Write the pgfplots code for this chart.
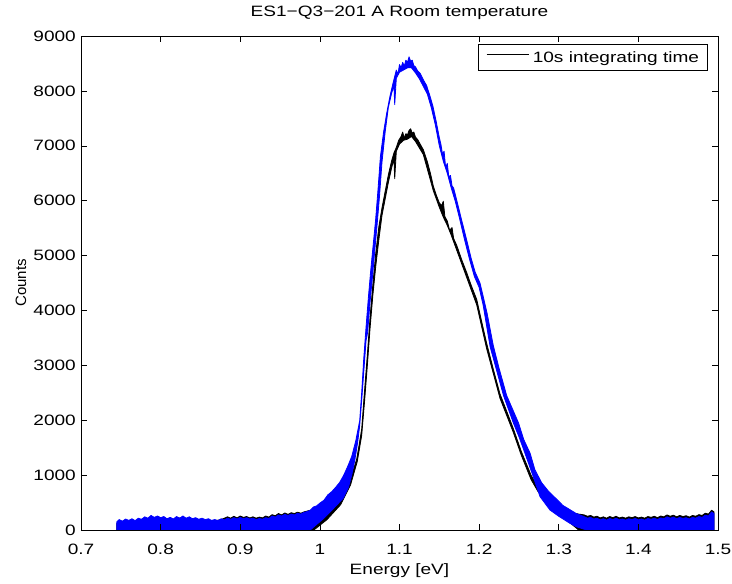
\documentclass[border=0pt]{standalone}
\usepackage{fontspec}
\setmainfont{Liberation Sans}[FakeStretch=1.27]
\newfontfamily\uprightlabel{Liberation Sans}
\usepackage{pgfplots}
\pgfplotsset{compat=1.18}

\begin{document}
\begin{tikzpicture}[font=\fontsize{15bp}{18bp}\selectfont]
\useasboundingbox (-81bp,-54bp) rectangle (651bp,530bp);
\begin{axis}[
  at={(0,0)}, anchor=south west,
  scale only axis, width=637bp, height=494bp,
  xmin=0.7, xmax=1.5, ymin=0, ymax=9000,
  xtick={0.7,0.8,0.9,1.0,1.1,1.2,1.3,1.4,1.5},
  xticklabels={0.7,0.8,0.9,1,1.1,1.2,1.3,1.4,1.5},
  ytick={0,1000,2000,3000,4000,5000,6000,7000,8000,9000},
  yticklabels={0,1000,2000,3000,4000,5000,6000,7000,8000,9000},
  /pgf/number format/assume math mode=true,
  tick align=inside, major tick length=6bp,
  tick style={black, line width=0.5bp},
  axis line style={line width=0.7bp},
  axis on top,
  xticklabel style={anchor=base, yshift=-24bp, inner sep=0pt},
  yticklabel style={anchor=east, inner sep=0pt, xshift=-5bp},
  title={ES1−Q3−201 A Room temperature},
  title style={at={(axis description cs:0.5,1.0283)}, anchor=base, inner sep=0pt},
  xlabel={Energy [eV]},
  xlabel style={at={(axis description cs:0.5,-0.0891)}, anchor=base, inner sep=0pt},
  ylabel={Counts},
  ylabel style={at={(axis description cs:-0.0863,0.5)}, anchor=base, inner sep=0pt,
    font=\uprightlabel\fontsize{15bp}{18bp}\selectfont},
  legend style={at={(axis description cs:1,1)}, anchor=north east,
    xshift=-10.7bp, yshift=-8bp, draw=black, line width=0.5bp,
    inner xsep=8bp, inner ysep=7bp, nodes={inner sep=0pt},
    /tikz/every odd column/.append style={column sep=4bp}},
  legend cell align=left,
  legend image code/.code={\draw[#1] (0bp,0.33em) -- (42bp,0.33em);},
]

% 10 s integration: noise band, upper edge left to right, lower edge back
\addplot[forget plot, draw=black, fill=black, line width=0.8bp, line join=round] coordinates {
(0.745,0) (0.745,120) (0.750,150) (0.756,170) (0.762,150) (0.768,160) (0.774,185)
(0.780,210) (0.786,200) (0.792,215) (0.798,225) (0.804,210) (0.810,200) (0.816,180)
(0.822,215) (0.828,225) (0.834,195) (0.840,180) (0.846,190) (0.852,180) (0.858,175)
(0.864,160) (0.870,175) (0.876,190) (0.880,215) (0.884,240) (0.888,215) (0.892,250)
(0.896,220) (0.900,255) (0.904,230) (0.908,245) (0.912,220) (0.916,240) (0.920,215)
(0.924,235) (0.928,220) (0.932,255) (0.936,235) (0.940,280) (0.944,260) (0.948,300)
(0.952,275) (0.956,310) (0.960,285) (0.964,315) (0.968,300) (0.972,325) (0.976,305)
(0.980,330) (0.984,345) (0.988,360) (0.992,350) (1.000,380) (1.010,430) (1.020,520)
(1.030,680) (1.0378,900) (1.0462,1290) (1.0495,1570) (1.0525,1840) (1.056,2520)
(1.0595,3170) (1.063,3870) (1.0665,4470) (1.070,5020) (1.074,5520) (1.078,5870)
(1.082,6170) (1.086,6470) (1.090,6720) (1.093,6870) (1.096,6970) (1.099,7100)
(1.102,7170) (1.104,7250) (1.106,7140) (1.108,7220) (1.110,7200) (1.112,7280)
(1.114,7310) (1.116,7230) (1.118,7250) (1.120,7160) (1.123,7110) (1.126,7030)
(1.1299,6930) (1.135,6710) (1.139,6490) (1.1425,6265) (1.146,6110) (1.150,5960)
(1.153,5910) (1.155,5990) (1.157,5710) (1.160,5630) (1.163,5460) (1.166,5510)
(1.168,5310) (1.1718,5190) (1.178,4930) (1.1844,4690) (1.190,4460) (1.197,4200)
(1.203,3810) (1.2095,3400) (1.218,2920) (1.2262,2480) (1.235,2150) (1.2429,1850)
(1.253,1430) (1.2652,1000) (1.274,780) (1.285,600) (1.300,420) (1.315,320)
(1.325,290) (1.332,275) (1.336,250) (1.340,265) (1.344,235) (1.348,250) (1.352,220)
(1.356,240) (1.360,215) (1.364,245) (1.368,225) (1.372,250) (1.376,220) (1.380,235)
(1.384,215) (1.388,240) (1.392,225) (1.396,245) (1.400,220) (1.404,235) (1.408,215)
(1.412,245) (1.416,230) (1.420,250) (1.424,225) (1.428,255) (1.432,240) (1.436,275)
(1.440,250) (1.444,270) (1.448,240) (1.452,265) (1.456,245) (1.460,260) (1.464,235)
(1.468,265) (1.472,250) (1.476,280) (1.480,265) (1.484,305) (1.488,290) (1.492,360)
(1.495,330) (1.495,0)
(1.325,0) (1.315,120) (1.300,300) (1.285,500) (1.274,700) (1.2652,920) (1.253,1360)
(1.2429,1780) (1.2262,2400) (1.2095,3300) (1.197,4100) (1.1844,4600) (1.1718,5100)
(1.165,5370) (1.160,5550) (1.155,5700) (1.150,5880) (1.1425,6180) (1.1299,6840)
(1.120,7080) (1.115,7170) (1.110,7120) (1.105,7100) (1.100,7030) (1.096,6900)
(1.094,6400) (1.093,6760) (1.090,6590) (1.086,6330) (1.082,6030) (1.078,5730)
(1.074,5280) (1.070,4780) (1.0665,4270) (1.063,3670) (1.0595,2970) (1.056,2320)
(1.0525,1720) (1.047,1250) (1.0385,820) (1.026,460) (1.009,190) (0.9925,0) (0.745,0)
};

% second acquisition: noise band, upper edge left to right, lower edge back
\addplot[forget plot, draw=blue, fill=blue, line width=0.8bp, line join=round] coordinates {
(0.745,0) (0.745,150) (0.748,190) (0.752,160) (0.756,200) (0.760,175) (0.764,205)
(0.768,170) (0.772,215) (0.776,195) (0.780,240) (0.784,215) (0.788,265) (0.792,230)
(0.796,255) (0.800,225) (0.804,245) (0.808,205) (0.812,230) (0.816,200) (0.820,245)
(0.824,215) (0.828,255) (0.832,215) (0.836,240) (0.840,205) (0.844,225) (0.848,195)
(0.852,215) (0.856,190) (0.860,205) (0.864,175) (0.868,190) (0.872,170) (0.876,205)
(0.880,185) (0.884,215) (0.888,195) (0.892,225) (0.896,200) (0.900,230) (0.904,205)
(0.908,225) (0.912,200) (0.916,215) (0.920,190) (0.924,210) (0.928,195) (0.932,225)
(0.936,210) (0.940,255) (0.944,235) (0.948,275) (0.952,255) (0.956,285) (0.960,265)
(0.964,290) (0.968,275) (0.972,305) (0.976,290) (0.980,320) (0.984,335) (0.988,360)
(0.992,420) (0.996,440) (1.000,490) (1.005,540) (1.010,640) (1.015,700) (1.020,780)
(1.025,870) (1.030,1000) (1.035,1160) (1.040,1340) (1.045,1620) (1.050,1990)
(1.0525,2500) (1.055,3100) (1.058,3700) (1.061,4250) (1.064,4750) (1.067,5200)
(1.070,5650) (1.073,6200) (1.076,6800) (1.080,7250) (1.084,7600) (1.088,7900)
(1.092,8150) (1.096,8380) (1.098,8300) (1.100,8480) (1.102,8420) (1.104,8520)
(1.106,8450) (1.108,8560) (1.110,8520) (1.112,8620) (1.114,8540) (1.116,8560)
(1.118,8460) (1.120,8440) (1.123,8360) (1.126,8320) (1.130,8200) (1.134,8100)
(1.138,7920) (1.142,7720) (1.146,7450) (1.150,7150) (1.152,7030) (1.154,6850)
(1.156,6900) (1.158,6600) (1.160,6680) (1.162,6430) (1.164,6460) (1.166,6270)
(1.168,6230) (1.1718,6013) (1.178,5650) (1.1844,5284) (1.190,4950) (1.195,4700)
(1.2011,4500) (1.2052,4250) (1.210,3950) (1.2178,3360) (1.225,2950) (1.2346,2450)
(1.2495,1950) (1.256,1650) (1.264,1400) (1.270,1100) (1.2786,860) (1.2875,700)
(1.2975,560) (1.305,450) (1.3141,370) (1.322,300) (1.3308,250) (1.336,215)
(1.340,230) (1.344,200) (1.348,215) (1.352,185) (1.356,205) (1.360,180) (1.364,210)
(1.368,190) (1.372,215) (1.376,185) (1.380,200) (1.384,180) (1.388,205) (1.392,190)
(1.396,210) (1.400,185) (1.404,200) (1.408,180) (1.412,210) (1.416,195) (1.420,215)
(1.424,190) (1.428,220) (1.432,205) (1.436,240) (1.440,215) (1.444,235) (1.448,205)
(1.452,230) (1.456,210) (1.460,225) (1.464,200) (1.468,230) (1.472,215) (1.476,245)
(1.480,230) (1.484,270) (1.488,255) (1.492,330) (1.495,300) (1.495,0)
(1.335,0) (1.322,60) (1.314,122) (1.300,250) (1.289,364) (1.2765,607) (1.268,971)
(1.2576,1397) (1.250,1700) (1.243,1950) (1.2306,2450) (1.2138,3340) (1.205,4100)
(1.200,4420) (1.194,4620) (1.188,4930) (1.182,5270) (1.1755,5670) (1.170,5990)
(1.165,6230) (1.160,6500) (1.155,6720) (1.150,7000) (1.145,7380) (1.140,7690)
(1.135,7940) (1.130,8080) (1.125,8220) (1.120,8330) (1.115,8420) (1.110,8420)
(1.105,8380) (1.100,8340) (1.096,8230) (1.094,7750) (1.093,8100) (1.090,7950)
(1.086,7700) (1.082,7250) (1.078,6700) (1.075,6100) (1.072,5580) (1.069,5100)
(1.066,4600) (1.063,4150) (1.060,3600) (1.058,3450) (1.0555,2950) (1.053,2450)
(1.050,1900) (1.0475,1600) (1.044,1280) (1.040,1000) (1.036,780) (1.0294,580)
(1.015,360) (1.004,200) (0.995,90) (0.988,0) (0.745,0)
};

\addlegendimage{black, line width=0.5bp}
\addlegendentry{10s integrating time}
\end{axis}
\end{tikzpicture}
\end{document}
